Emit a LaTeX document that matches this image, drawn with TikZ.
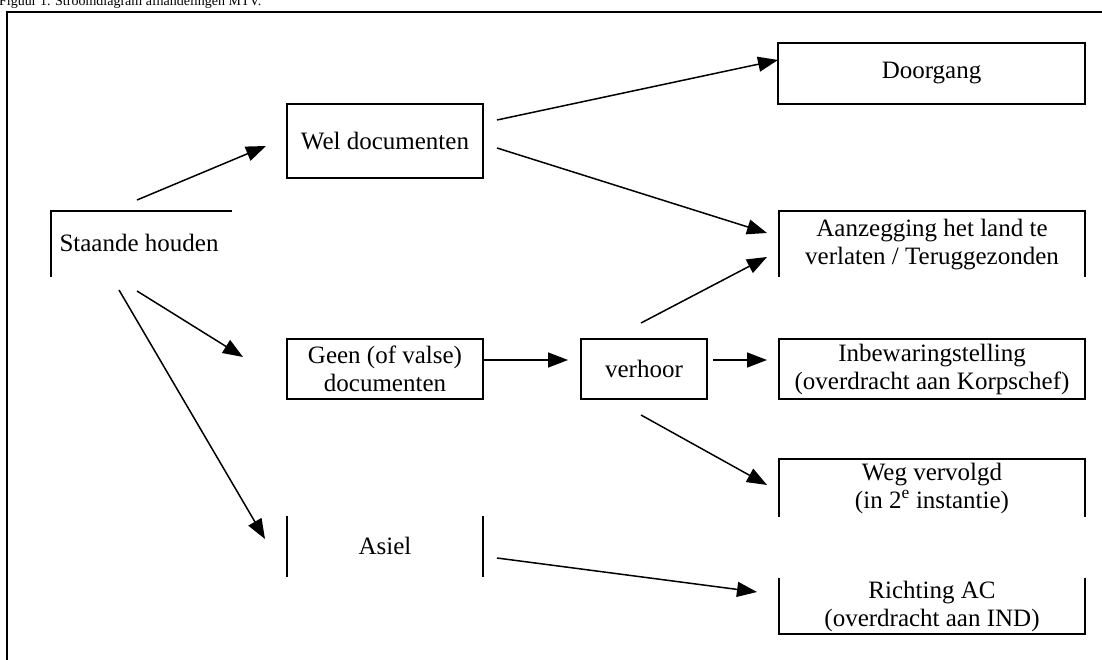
\documentclass[tikz,border=0pt]{standalone}
\usepackage{fontspec}
\setmainfont{Liberation Serif}
\usetikzlibrary{arrows.meta,calc}
\begin{document}
\begin{tikzpicture}[x=1pt,y=-1pt,
  lbl/.style={font=\fontsize{25}{28}\selectfont, align=center, inner sep=0pt},
  boxed/.style={lbl, draw, line width=2pt},
  edge/.style={line width=2pt},
  arr/.style={line width=1.5pt, -{Triangle[length=20pt,width=15pt]}},
]
\useasboundingbox (0,0) rectangle (1102,660);
% title and outer frame
\node[anchor=base west, inner sep=0pt, font=\fontsize{14}{16}\selectfont] (title) at (-1,6) {Figuur 1. Stroomdiagram afhandelingen MTV.};
\draw[edge] (1110,12) -| (7,670);

% nodes
\node[lbl] (staande) at (139,243) {Staande houden};
\draw[edge] (232,211) -| (51,277);

\node[boxed, minimum width=196pt, minimum height=74pt] (wel) at (385,141) {Wel documenten};
\node[boxed, minimum width=307pt, minimum height=61pt] (doorgang) at (931.5,73.5) {Doorgang};

\node[lbl] (aanz) at (932,245) {Aanzegging het land te\\verlaten / Teruggezonden};
\draw[edge] (779,277) |- (1085,211) -- (1085,277);

\node[boxed, minimum width=196pt, minimum height=60pt] (geen) at (385,369) {Geen (of valse)\\documenten};
\node[boxed, minimum width=126pt, minimum height=60pt] (verhoor) at (644,369) {verhoor};
\node[boxed, minimum width=306pt, minimum height=60pt] (inbew) at (932,369) {Inbewaringstelling\\(overdracht aan Korpschef)};

\node[lbl] (weg) at (932,488) {Weg vervolgd\\(in 2\textsuperscript{e} instantie)};
\draw[edge] (779,517) |- (1085,459) -- (1085,517);

\node[lbl] (asiel) at (385,546) {Asiel};
\draw[edge] (287,516) -- (287,577);
\draw[edge] (483,516) -- (483,577);

\node[lbl] (richt) at (932,606) {Richting AC\\(overdracht aan IND)};
\draw[edge] (779,578) |- (1085,634) -- (1085,578);

% connectors
\draw[arr] ($(staande)+(-2,-43)$) -- ($(wel)+(-119,5)$);
\draw[arr] ($(wel)+(112,-21)$) -- ($(doorgang)+(-153.5,-13.5)$);
\draw[arr] ($(wel)+(112,7)$) -- ($(aanz)+(-165,-12)$);
\draw[arr] ($(staande)+(-2,48)$) -- ($(geen)+(-142,-12)$);
\draw[arr] ($(staande)+(-20,47)$) -- ($(asiel)+(-120,-7)$);
\draw[arr] ($(geen)+(98,-9)$) -- ($(verhoor)+(-76,-9)$);
\draw[arr] ($(verhoor)+(69,-9)$) -- ($(inbew)+(-165,-9)$);
\draw[arr] ($(verhoor)+(-3,-46)$) -- ($(aanz)+(-165,12)$);
\draw[arr] ($(verhoor)+(-3,46)$) -- ($(weg)+(-165,-3)$);
\draw[arr] ($(asiel)+(112,12)$) -- ($(richt)+(-175,-14)$);
\end{tikzpicture}
\end{document}
